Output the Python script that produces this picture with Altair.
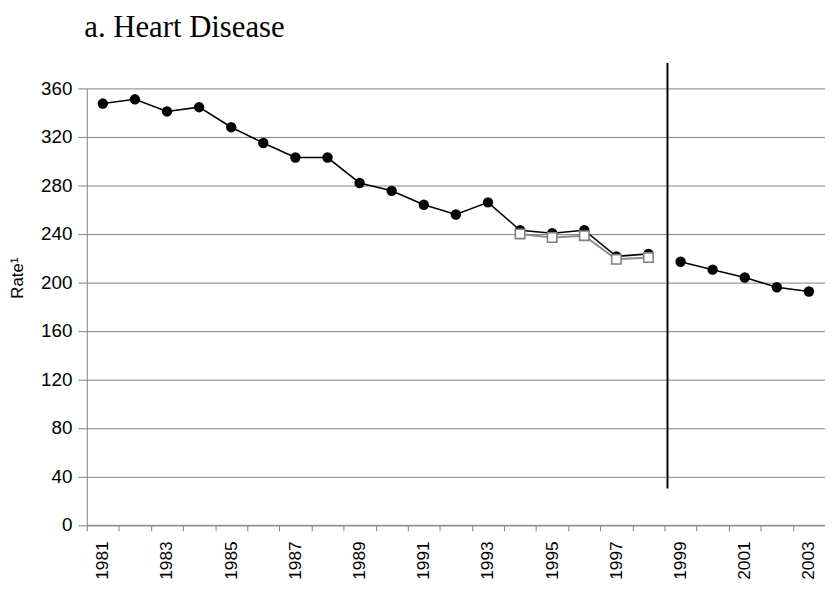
import altair as alt
import pandas as pd

title_text = ["a. Heart Disease"]

years = list(range(1981, 2004))
rates = [347.5, 351, 341, 344.5, 328, 315, 303, 303, 282, 275.5, 264, 256,
         266, 243, 240.5, 243, 221.5, 223.5, 217, 210.5, 204, 196, 192.5]
segments = ["1981-1998"] * 18 + ["1999-2003"] * 5

alt_years = [1994, 1995, 1996, 1997, 1998]
alt_rates = [240, 237, 238.5, 219, 220.5]

break_year = [1999]
break_from = [30]
break_to = [381]

y_ticks = [0, 40, 80, 120, 160, 200, 240, 280, 320, 360]

main = pd.DataFrame({"year": years, "rate": rates, "seg": segments})
alt_df = pd.DataFrame({"year": alt_years, "rate": alt_rates})
brk = pd.DataFrame({"year": break_year, "y1": break_from, "y2": break_to})
ttl = pd.DataFrame({"t": title_text})

FONT = "Liberation Sans"

xscale = alt.Scale(type="band", paddingInner=0, paddingOuter=0)
x_axis = alt.Axis(
    title=None, labelAngle=270, labelAlign="right", labelBaseline="middle",
    labelExpr="datum.value % 2 == 1 ? datum.label : ''",
    tickBand="extent", tickSize=6, tickColor="#808080", domainColor="#808080",
    labelFont=FONT, labelFontSize=17.5, labelColor="black", labelPadding=10,
    grid=False, labelOverlap=False,
)
yscale = alt.Scale(domain=[0, 360], nice=False)
y_axis = alt.Axis(
    values=y_ticks, title="Rate¹", grid=True, gridColor="#808080", gridWidth=1,
    tickSize=9, tickColor="#808080", domainColor="#808080",
    labelFont=FONT, labelFontSize=19, labelColor="black", labelPadding=6,
    titleFont=FONT, titleFontSize=17, titleFontWeight="normal", titleColor="black",
    titleAngle=270, titleX=-65, titleY=191, titleAlign="center",
    titleBaseline="alphabetic",
)

base_x = alt.X("year:O", scale=xscale, axis=x_axis)
base_y = alt.Y("rate:Q", scale=yscale, axis=y_axis)

line = alt.Chart(main).mark_line(color="black", strokeWidth=1.6).encode(
    x=base_x, y=base_y, detail="seg:N")
dots = alt.Chart(main).mark_point(filled=True, shape="circle", size=110,
                                  color="black", opacity=1).encode(x=base_x, y=base_y)
gline = alt.Chart(alt_df).mark_line(color="#8c8c8c", strokeWidth=2).encode(
    x=base_x, y=base_y)
squares = alt.Chart(alt_df).mark_point(shape="square", size=90, filled=True,
                                       fill="white", stroke="#808080",
                                       strokeWidth=1.6, opacity=1).encode(
    x=base_x, y=base_y)
rule = alt.Chart(brk).mark_rule(color="black", strokeWidth=2).encode(
    x=alt.X("year:O", bandPosition=0),
    xOffset=alt.value(3),
    y=alt.Y("y1:Q"), y2="y2:Q")
title_mark = alt.Chart(ttl).mark_text(
    font="Liberation Serif", fontSize=31, color="black", align="left",
    baseline="alphabetic").encode(
    text="t:N", x=alt.value(-2.5), y=alt.value(-52))

chart = alt.layer(line, dots, gline, squares, rule, title_mark).properties(
    width=745, height=440.5,
    autosize=alt.AutoSizeParams(type="none"),
    padding={"left": 79.5, "top": 78.5, "right": 0, "bottom": 55},
).configure_view(stroke=None)

chart.save("out.html", embed_options={"renderer": "svg", "actions": False})
